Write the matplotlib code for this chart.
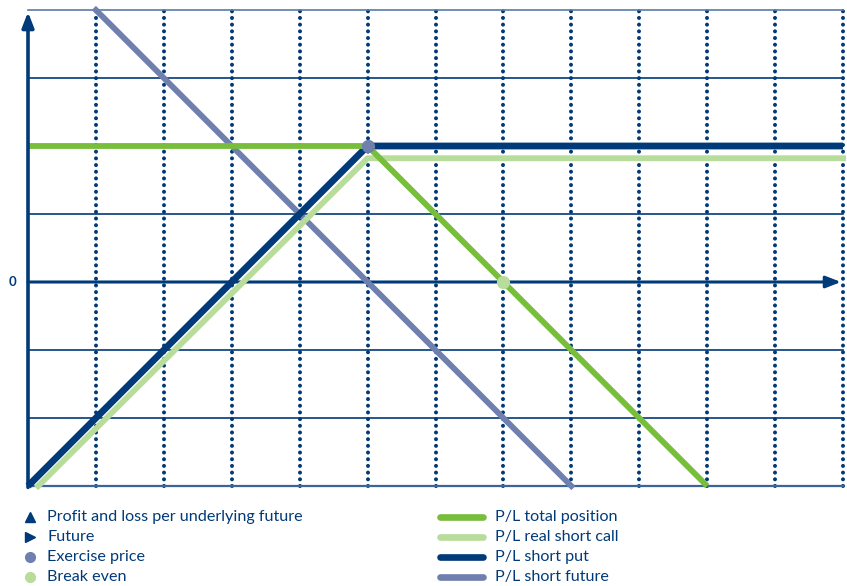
import numpy as np
import matplotlib.pyplot as plt
from matplotlib.lines import Line2D

# payoff diagram, units = grid cells
x_put = [0, 5, 12]
y_put = [-3, 2, 2]
x_call = [0.15, 5, 12]
y_call = [-3, 1.82, 1.82]
x_total = [0, 5, 10]
y_total = [2, 2, -3]
x_future = [1, 8]
y_future = [4, -3]
exercise = (5, 2)
break_even = (7, 0)

marker_labels = ['Profit and loss per underlying future', 'Future', 'Exercise price', 'Break even']
line_labels = ['P/L total position', 'P/L real short call', 'P/L short put', 'P/L short future']

navy = '#003a78'
green = '#78be3c'
light_green = '#b8dc9a'
slate = '#6f7fae'


def main():
    plt.rcParams['font.family'] = ['Lato', 'DejaVu Sans']
    fig = plt.figure(figsize=(8.47, 5.86), dpi=100)
    ax = fig.add_axes([28/847, 100/586, 815/847, 476/586])
    ax.set_xlim(0, 12)
    ax.set_ylim(-3, 4)
    ax.axis('off')

    # grid
    for gx in range(1, 13):
        ax.plot([gx, gx], [-3, 4], color=navy, lw=2.9, ls=(0, (0.01, 1.65)),
                dash_capstyle='round', zorder=1, clip_on=False)
    for gy in [-2, -1, 1, 2, 3]:
        ax.plot([0, 12], [gy, gy], color=navy, lw=1.2, zorder=1, clip_on=False)
    ax.plot([0, 12], [4, 4], color='#5a7aa5', lw=1.2, zorder=1, clip_on=False)
    ax.plot([0, 12], [-3, -3], color='#3d6496', lw=1.6, zorder=1, clip_on=False)

    # axes with arrows
    ax.annotate('', xy=(11.97, 0), xytext=(0, 0),
                arrowprops=dict(arrowstyle='-|>,head_length=0.9,head_width=0.35',
                                color=navy, lw=2.2, shrinkA=0, shrinkB=0), zorder=3)
    ax.annotate('', xy=(0, 3.97), xytext=(0, -3.02),
                arrowprops=dict(arrowstyle='-|>,head_length=0.9,head_width=0.35',
                                color=navy, lw=2.6, shrinkA=0, shrinkB=0), zorder=6)
    ax.text(-0.17, 0, '0', color=navy, fontsize=9.5, fontweight='bold',
            ha='right', va='center')

    # payoff lines
    ax.plot(x_future, y_future, color=slate, lw=4.2, zorder=4, clip_on=False)
    ax.plot(x_call, y_call, color=light_green, lw=4.2, zorder=4, clip_on=False)
    ax.plot(x_put, y_put, color=navy, lw=4.9, zorder=5, clip_on=False,
            solid_capstyle='butt')
    ax.plot(x_total, y_total, color=green, lw=4.2, zorder=5, clip_on=False,
            solid_capstyle='butt')
    ax.plot(*exercise, 'o', color=slate, ms=8.5, zorder=7)
    ax.plot(*break_even, 'o', color=light_green, ms=8.5, zorder=7)

    # legend, drawn by hand
    markers = [('^', navy), ('>', navy), ('o', slate), ('o', light_green)]
    line_colors = [green, light_green, navy, slate]
    rows = [517, 537, 557, 577]
    for (m, c), lab, py in zip(markers, marker_labels, rows):
        yf = 1 - py/586
        fig.add_artist(Line2D([30/847], [yf], marker=m, color=c, ms=7, ls='none'))
        fig.text(47/847, yf, lab, color=navy, fontsize=11.6, va='center')
    for c, lab, py in zip(line_colors, line_labels, rows):
        yf = 1 - py/586
        fig.add_artist(Line2D([440/847, 483/847], [yf, yf], color=c, lw=4.8,
                              solid_capstyle='round'))
        fig.text(495/847, yf, lab, color=navy, fontsize=11.6, va='center')

    fig.savefig('out.png', dpi=100)


if __name__ == "__main__":
    main()
